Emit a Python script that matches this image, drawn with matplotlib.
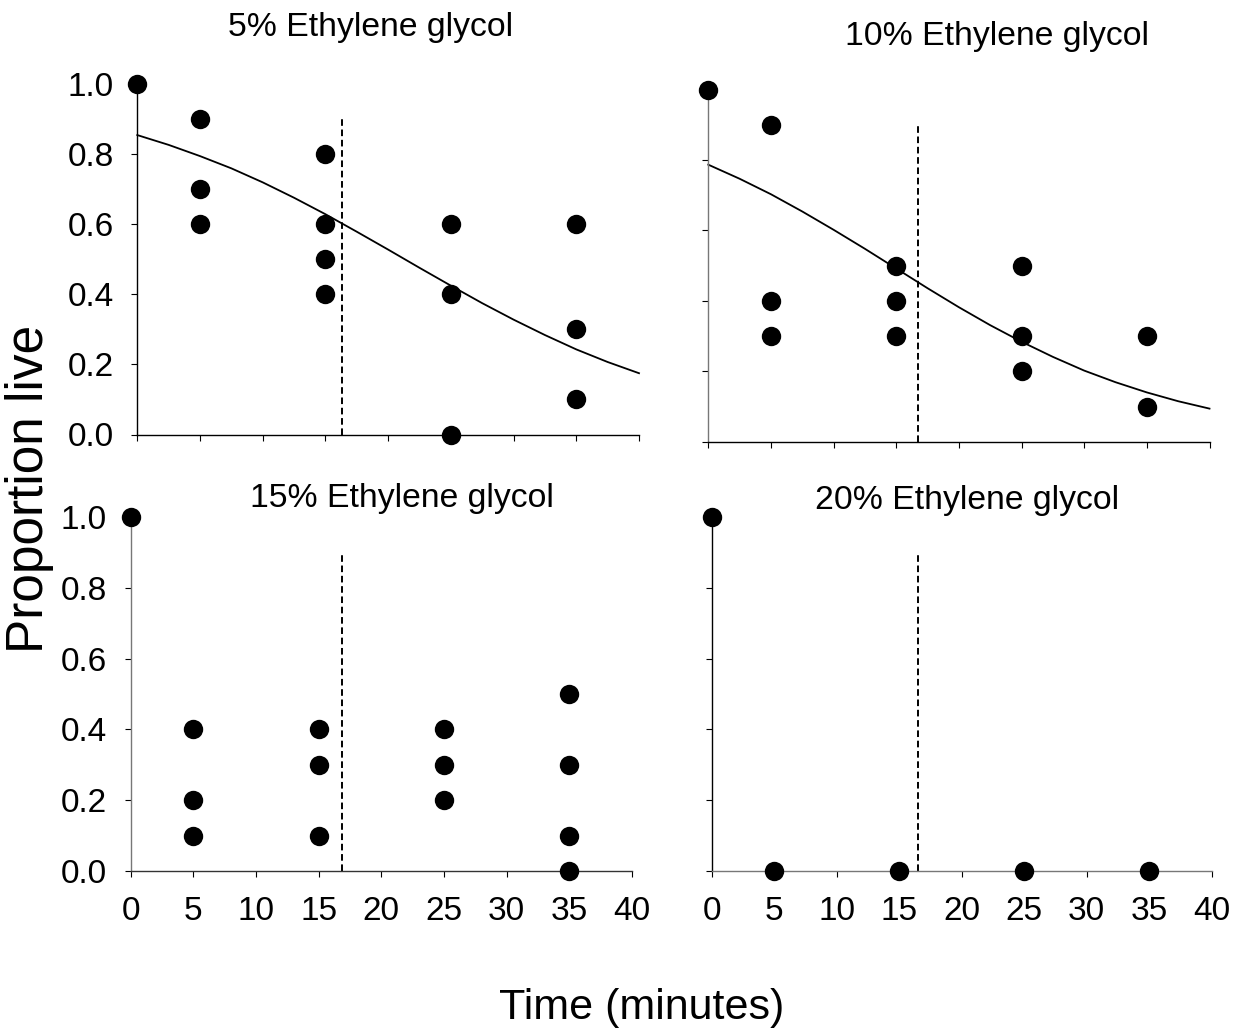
import matplotlib
matplotlib.use("Agg")
import matplotlib.pyplot as plt

plt.rcParams['font.family'] = ['Liberation Sans', 'DejaVu Sans']

W, H = 1244, 1030

titles = ["5% Ethylene glycol", "10% Ethylene glycol",
          "15% Ethylene glycol", "20% Ethylene glycol"]

# observed proportions live
t_5 = [0, 5, 5, 5, 15, 15, 15, 15, 25, 25, 25, 35, 35, 35]
p_5 = [1.0, 0.9, 0.7, 0.6, 0.8, 0.6, 0.5, 0.4, 0.6, 0.4, 0.0, 0.6, 0.3, 0.1]

t_10 = [0, 5, 5, 5, 15, 15, 15, 25, 25, 25, 35, 35]
p_10 = [1.0, 0.9, 0.4, 0.3, 0.5, 0.4, 0.3, 0.5, 0.3, 0.2, 0.3, 0.1]

t_15 = [0, 5, 5, 5, 15, 15, 15, 25, 25, 25, 35, 35, 35, 35]
p_15 = [1.0, 0.4, 0.2, 0.1, 0.4, 0.3, 0.1, 0.4, 0.3, 0.2, 0.5, 0.3, 0.1, 0.0]

t_20 = [0, 5, 15, 25, 35]
p_20 = [1.0, 0.0, 0.0, 0.0, 0.0]

# fitted curves
curve_t = [0, 2.5, 5, 7.5, 10, 12.5, 15, 17.5, 20, 22.5, 25, 27.5, 30, 32.5, 35, 37.5, 40]
curve_5 = [0.855, 0.827, 0.795, 0.760, 0.720, 0.676, 0.629, 0.579, 0.528,
           0.476, 0.425, 0.375, 0.328, 0.284, 0.243, 0.207, 0.175]
curve_10 = [0.787, 0.747, 0.703, 0.654, 0.602, 0.548, 0.492, 0.436, 0.382,
            0.331, 0.284, 0.241, 0.202, 0.169, 0.140, 0.115, 0.094]

# dashed reference line (minutes)
ref_t = [16.35, 16.75, 16.9, 16.5]
ref_top = 0.9

x_ticks = [0, 5, 10, 15, 20, 25, 30, 35, 40]
y_ticks = [0.0, 0.2, 0.4, 0.6, 0.8, 1.0]
y_ticklabels = ["0.0", "0.2", "0.4", "0.6", "0.8", "1.0"]

# axes pixel boxes: (left, right, y of 0, y of 1)
boxes = [(137.3, 639.0, 434.5, 84.3),
         (708.3, 1209.5, 441.7, 89.7),
         (130.7, 632.0, 871.0, 517.0),
         (711.7, 1211.7, 871.0, 517.0)]
spine_cols = [("#000000", "#000000"), ("#777777", "#000000"),
              ("#777777", "#333333"), ("#000000", "#777777")]
title_pos = [(371, 36), (997, 45), (402, 507), (967, 509)]

data = [(t_5, p_5, curve_5), (t_10, p_10, curve_10),
        (t_15, p_15, None), (t_20, p_20, None)]

fig = plt.figure(figsize=(W / 100, H / 100), dpi=100)

for i, ((l, r, y0, y1), (tt, pp, cc)) in enumerate(zip(boxes, data)):
    ax = fig.add_axes([l / W, 1 - y0 / H, (r - l) / W, (y0 - y1) / H])
    ax.set_xlim(0, 40)
    ax.set_ylim(0, 1)
    for s in ["top", "right"]:
        ax.spines[s].set_visible(False)
    ax.spines["left"].set_color(spine_cols[i][0])
    ax.spines["bottom"].set_color(spine_cols[i][1])
    ax.spines["left"].set_linewidth(1.0)
    ax.spines["bottom"].set_linewidth(1.0)
    ax.set_xticks(x_ticks)
    ax.set_yticks(y_ticks)
    ax.tick_params(direction="out", length=4, width=0.8, color="#000000")
    if i in (0, 2):
        ax.set_yticklabels(y_ticklabels, fontsize=24)
        ax.tick_params(axis="y", pad=13)
    else:
        ax.set_yticklabels([])
    if i in (2, 3):
        ax.set_xticklabels([str(v) for v in x_ticks], fontsize=24)
        ax.tick_params(axis="x", pad=14)
    else:
        ax.set_xticklabels([])
    ax.axvline(ref_t[i], ymin=0, ymax=ref_top, color="black", lw=1.4,
               linestyle=(0, (3.4, 1.9)))
    if cc is not None:
        ax.plot(curve_t, cc, color="black", lw=1.3, clip_on=False)
    ax.scatter(tt, pp, s=195, color="black", zorder=5, clip_on=False,
               linewidths=0)
    tx, ty = title_pos[i]
    fig.text(tx / W, 1 - ty / H, titles[i], ha="center", va="baseline",
             fontsize=24.3)

fig.text(641.5 / W, 1 - 1019 / H, "Time (minutes)", ha="center",
         va="baseline", fontsize=31)
fig.text(30 / W, 1 - 489 / H, "Proportion live", ha="center", va="center",
         rotation=90, fontsize=37)

fig.savefig("out.png", dpi=100)
